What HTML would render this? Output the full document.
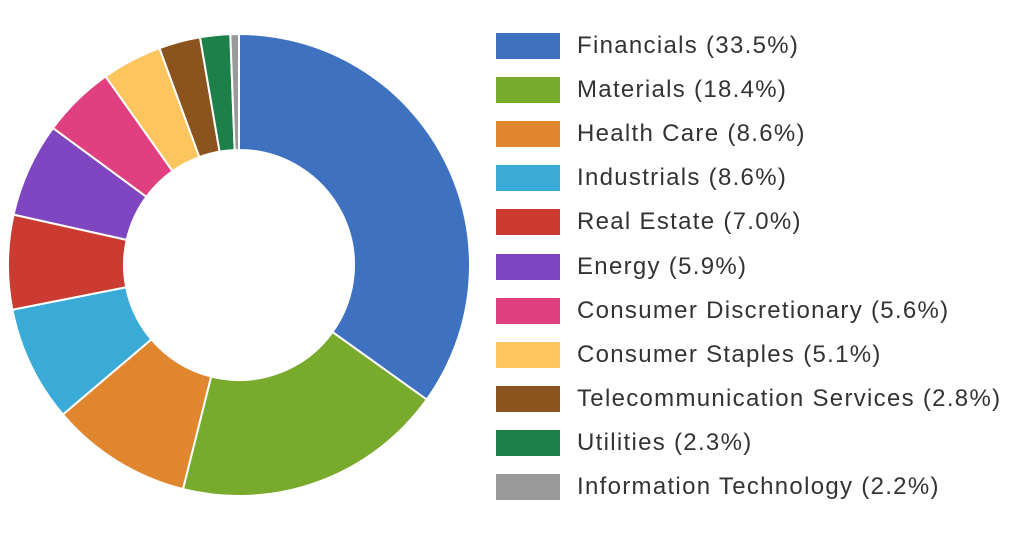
<!DOCTYPE html>
<html><head><meta charset="utf-8"><style>
body{margin:0;background:#fff;width:1024px;height:542px;overflow:hidden;font-family:"Liberation Sans",sans-serif;}
.leg{position:absolute;left:496px;}
.sw{position:absolute;left:0;width:64px;height:26px;}
.tx{position:absolute;left:81px;top:-1px;font-size:24px;letter-spacing:1.3px;color:#333;white-space:nowrap;line-height:28px;}
</style></head><body>
<svg id="s" width="1024" height="542" style="position:absolute;left:0;top:0"></svg>
<div id="L"></div>
<script>
var data=[["Financials (33.5%)","#3e72c0",34.9],["Materials (18.4%)","#78aa2c",53.9],["Health Care (8.6%)","#e0862f",63.8],["Industrials (8.6%)","#3aabd7",71.9],["Real Estate (7.0%)","#cc3b31",78.5],["Energy (5.9%)","#7f46c1",85.1],["Consumer Discretionary (5.6%)","#e0407f",90.2],["Consumer Staples (5.1%)","#fcc55d",94.4],["Telecommunication Services (2.8%)","#8b531d",97.3],["Utilities (2.3%)","#1e8049",99.4],["Information Technology (2.2%)","#9a9a9a",100]];
var cx=239,cy=265,R=231,r=115,s="",prev=0;
function pt(p,rad){var a=p/100*2*Math.PI;return (cx+rad*Math.sin(a)).toFixed(2)+","+(cy-rad*Math.cos(a)).toFixed(2);}
data.forEach(function(d,i){var a=prev,b=d[2];var la=(b-a)>50?1:0;
s+='<path d="M'+pt(a,R)+' A'+R+','+R+' 0 '+la+' 1 '+pt(b,R)+' L'+pt(b,r)+' A'+r+','+r+' 0 '+la+' 0 '+pt(a,r)+' Z" fill="'+d[1]+'" stroke="#fff" stroke-width="2"/>';prev=b;});
document.getElementById('s').innerHTML=s;
var h="";data.forEach(function(d,i){h+='<div class="leg" style="top:'+(33+i*44.1)+'px"><div class="sw" style="background:'+d[1]+'"></div><div class="tx">'+d[0]+'</div></div>';});
document.getElementById('L').innerHTML=h;
</script>
</body></html>
